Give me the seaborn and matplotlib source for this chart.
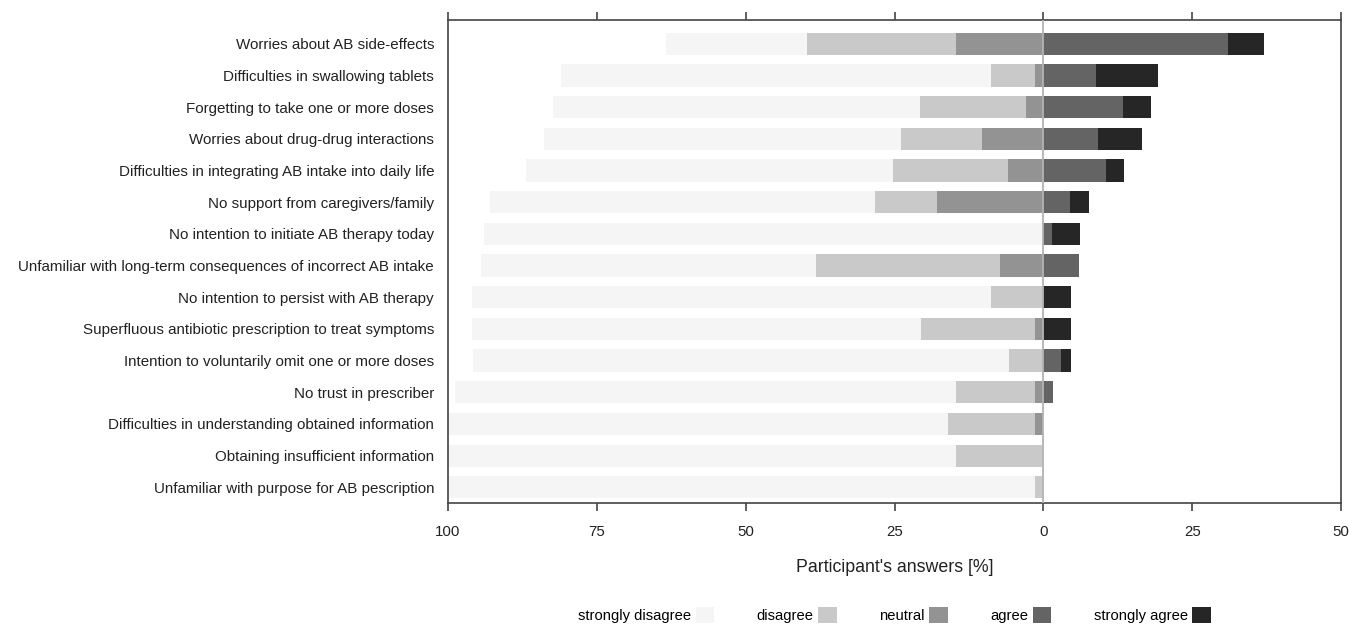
import matplotlib
matplotlib.use("Agg")
import matplotlib.pyplot as plt
from matplotlib.patches import Patch
import seaborn as sns
import pandas as pd
import numpy as np

# barriers to antibiotic (AB) adherence, answers in % per item
items = [
    "Worries about AB side-effects",
    "Difficulties in swallowing tablets",
    "Forgetting to take one or more doses",
    "Worries about drug-drug interactions",
    "Difficulties in integrating AB intake into daily life",
    "No support from caregivers/family",
    "No intention to initiate AB therapy today",
    "Unfamiliar with long-term consequences of incorrect AB intake",
    "No intention to persist with AB therapy",
    "Superfluous antibiotic prescription to treat symptoms",
    "Intention to voluntarily omit one or more doses",
    "No trust in prescriber",
    "Difficulties in understanding obtained information",
    "Obtaining insufficient information",
    "Unfamiliar with purpose for AB pescription",
]
strongly_disagree = [23.6, 72.2, 61.5, 60.0, 61.6, 64.6, 94.0, 56.2, 87.1, 75.4, 90.0, 84.2, 84.0, 85.3, 98.6]
disagree = [25.0, 7.4, 17.9, 13.6, 19.3, 10.4, 0.0, 30.9, 8.8, 19.1, 5.8, 13.3, 14.6, 14.7, 1.4]
neutral = [14.7, 1.4, 2.9, 10.3, 6.0, 17.9, 0.0, 7.3, 0.0, 1.4, 0.0, 1.4, 1.4, 0.0, 0.0]
agree = [31.0, 8.8, 13.4, 9.1, 10.5, 4.5, 1.5, 6.0, 0.0, 0.0, 2.9, 1.7, 0.0, 0.0, 0.0]
strongly_agree = [6.1, 10.5, 4.7, 7.4, 3.1, 3.1, 4.7, 0.0, 4.7, 4.7, 1.7, 0.0, 0.0, 0.0, 0.0]

levels = ["strongly disagree", "disagree", "neutral", "agree", "strongly agree"]
colors = ["#f5f5f5", "#c9c9c9", "#939393", "#646464", "#262626"]

df = pd.DataFrame({"item": items, "sd": strongly_disagree, "d": disagree,
                   "n": neutral, "a": agree, "sa": strongly_agree})
# cumulative ends: left side negative (neutral nearest to zero), right side positive
df["sd_end"] = -(df["n"] + df["d"] + df["sd"])
df["d_end"] = -(df["n"] + df["d"])
df["n_end"] = -df["n"]
df["a_end"] = df["a"]
df["sa_end"] = df["a"] + df["sa"]

plt.rcParams["font.family"] = ["Liberation Sans", "DejaVu Sans"]

fig = plt.figure(figsize=(13.49, 6.25), dpi=100)
ax = fig.add_axes([0.3321, 0.195, 0.6620, 0.773])

# longest bars first so the shorter ones stack on top
for col, c in [("sd_end", colors[0]), ("d_end", colors[1]), ("n_end", colors[2]),
               ("sa_end", colors[4]), ("a_end", colors[3])]:
    sns.barplot(data=df, x=col, y="item", color=c, orient="h", width=0.7,
                saturation=1, linewidth=0, ax=ax)

ax.axvline(0, color="#b3b3b3", lw=1.3, zorder=5)

ax.set_xlim(-100, 50)
ax.set_ylim(14.5, -0.75)
ticks = [-100, -75, -50, -25, 0, 25, 50]
ax.set_xticks(ticks)
ax.set_xticklabels([str(abs(t)) for t in ticks])
ax.set_xlabel("Participant's answers [%]", fontsize=12.8, labelpad=14, color="#222222")
ax.set_ylabel("")

ax.tick_params(axis="x", top=True, labeltop=False, direction="out", length=6,
               width=1.2, color="#444444", labelsize=10.8, pad=10, labelcolor="#222222")
ax.tick_params(axis="y", length=0, labelsize=10.9, pad=10, labelcolor="#222222")
for s in ax.spines.values():
    s.set_color("#444444")
    s.set_linewidth(1.2)

handles = [Patch(facecolor=c, edgecolor="none") for c in colors]
fig.legend(handles, levels, loc="center", bbox_to_anchor=(0.663, 0.016), ncol=5,
           frameon=False, markerfirst=False, fontsize=10.6, handlelength=1.25,
           handleheight=1.25, handletextpad=0.3, columnspacing=2.9)

fig.savefig("out.png", dpi=100)
